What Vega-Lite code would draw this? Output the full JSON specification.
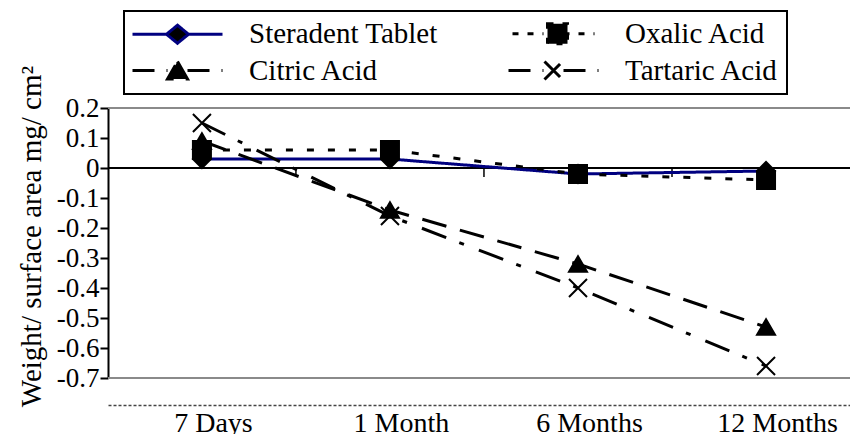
{
  "$schema": "https://vega.github.io/schema/vega-lite/v6.json",
  "width": 742,
  "height": 270,
  "autosize": {"type": "none"},
  "padding": {"left": 108, "top": 108, "right": 0, "bottom": 56},
  "background": "white",
  "config": {
    "view": {"stroke": null},
    "font": "Liberation Serif, Times New Roman, serif",
    "locale": {"number": {"decimal": ".", "thousands": ",", "grouping": [3], "currency": ["$", ""], "minus": "-"}},
    "axis": {"labelOverlap": false},
    "axisY": {"labelOverlap": false},
    "legend": {
      "orient": "none",
      "legendX": 16,
      "legendY": -97,
      "columns": 2,
      "gridAlign": "all",
      "columnPadding": 64,
      "rowPadding": 5,
      "padding": 8,
      "strokeColor": "black",
      "strokeWidth": 2,
      "labelFont": "Liberation Serif, Times New Roman, serif",
      "labelFontSize": 29,
      "labelColor": "black",
      "labelLimit": 400,
      "labelOffset": 57,
      "symbolOffset": 31,
      "symbolSize": 400,
      "symbolStrokeWidth": 3,
      "symbolFillColor": "black"
    }
  },
  "datasets": {
    "weight": [
      {"period": "7 Days", "months": 0.23, "series": "Steradent Tablet", "value": 0.03},
      {"period": "1 Month", "months": 1, "series": "Steradent Tablet", "value": 0.03},
      {"period": "6 Months", "months": 6, "series": "Steradent Tablet", "value": -0.02},
      {"period": "12 Months", "months": 12, "series": "Steradent Tablet", "value": -0.01},
      {"period": "7 Days", "months": 0.23, "series": "Oxalic Acid", "value": 0.06},
      {"period": "1 Month", "months": 1, "series": "Oxalic Acid", "value": 0.06},
      {"period": "6 Months", "months": 6, "series": "Oxalic Acid", "value": -0.02},
      {"period": "12 Months", "months": 12, "series": "Oxalic Acid", "value": -0.04},
      {"period": "7 Days", "months": 0.23, "series": "Citric Acid", "value": 0.09},
      {"period": "1 Month", "months": 1, "series": "Citric Acid", "value": -0.14},
      {"period": "6 Months", "months": 6, "series": "Citric Acid", "value": -0.32},
      {"period": "12 Months", "months": 12, "series": "Citric Acid", "value": -0.53},
      {"period": "7 Days", "months": 0.23, "series": "Tartaric Acid", "value": 0.15},
      {"period": "1 Month", "months": 1, "series": "Tartaric Acid", "value": -0.16},
      {"period": "6 Months", "months": 6, "series": "Tartaric Acid", "value": -0.40},
      {"period": "12 Months", "months": 12, "series": "Tartaric Acid", "value": -0.66}
    ]
  },
  "data": {"name": "weight"},
  "layer": [
    {
      "mark": {"type": "rule", "color": "#8a8a8a", "strokeWidth": 2},
      "encoding": {
        "y": {
          "datum": 0.2,
          "type": "quantitative",
          "scale": {"domain": [-0.7, 0.2], "nice": false, "zero": false},
          "axis": {
            "title": "Weight/ surface area mg/ cm²",
            "values": [0.2, 0.1, 0, -0.1, -0.2, -0.3, -0.4, -0.5, -0.6, -0.7],
            "tickCount": 10,
            "format": ".1~f",
            "labelFont": "Liberation Serif, Times New Roman, serif",
            "labelFontSize": 27,
            "labelColor": "black",
            "labelPadding": 1,
            "labelOverlap": false,
            "labelFlush": false,
            "domainColor": "black",
            "domainWidth": 2,
            "tickColor": "black",
            "tickWidth": 2,
            "tickSize": 8,
            "grid": false,
            "titleFont": "Liberation Serif, Times New Roman, serif",
            "titleFontSize": 29,
            "titleFontWeight": "normal",
            "titleColor": "black",
            "titleAngle": 270,
            "titleAlign": "center",
            "titleBaseline": "alphabetic",
            "titleX": -68,
            "titleY": 128
          }
        }
      }
    },
    {
      "mark": {"type": "rule", "color": "#8a8a8a", "strokeWidth": 2},
      "encoding": {"y": {"datum": -0.7, "type": "quantitative"}}
    },
    {
      "mark": {"type": "rule", "color": "black", "strokeWidth": 1.5},
      "encoding": {"y": {"datum": 0, "type": "quantitative"}}
    },
    {
      "transform": [{"filter": "datum.series == 'Steradent Tablet' && datum.period != '12 Months'"}],
      "mark": {"type": "rule", "color": "black", "strokeWidth": 1.5, "xOffset": 94},
      "encoding": {
        "x": {
          "field": "period",
          "type": "nominal",
          "sort": ["7 Days", "1 Month", "6 Months", "12 Months"],
          "scale": {"type": "point", "padding": 0.473, "align": 0.528},
          "axis": {
            "title": null,
            "orient": "bottom",
            "offset": 27,
            "domain": true,
            "domainColor": "#444444",
            "domainDash": [3, 2],
            "domainWidth": 1.5,
            "ticks": false,
            "tickSize": 0,
            "grid": false,
            "labelFont": "Liberation Serif, Times New Roman, serif",
            "labelFontSize": 28,
            "labelColor": "black",
            "labelBaseline": "alphabetic",
            "labelPadding": 26,
            "labelOffset": 11,
            "labelAngle": 0,
            "labelOverlap": false
          }
        },
        "y": {"datum": 0, "type": "quantitative"},
        "y2": {"datum": -0.03}
      }
    },
    {
      "mark": {"type": "line", "strokeWidth": 3},
      "encoding": {
        "x": {"field": "period", "type": "nominal", "sort": ["7 Days", "1 Month", "6 Months", "12 Months"]},
        "y": {"field": "value", "type": "quantitative"},
        "color": {
          "field": "series",
          "type": "nominal",
          "scale": {"domain": ["Steradent Tablet", "Oxalic Acid", "Citric Acid", "Tartaric Acid"], "range": ["#000080", "black", "black", "black"]},
          "legend": null
        },
        "strokeDash": {
          "field": "series",
          "type": "nominal",
          "scale": {"domain": ["Steradent Tablet", "Oxalic Acid", "Citric Acid", "Tartaric Acid"], "range": [[1, 0], [7, 14], [25, 14], [26, 14, 5, 16]]},
          "legend": null
        },
        "order": {"field": "months", "type": "quantitative"}
      }
    },
    {
      "mark": {"type": "point", "filled": true, "fill": "black", "stroke": "black", "strokeWidth": 2, "size": 324, "opacity": 1},
      "encoding": {
        "x": {"field": "period", "type": "nominal", "sort": ["7 Days", "1 Month", "6 Months", "12 Months"]},
        "y": {"field": "value", "type": "quantitative"},
        "shape": {
          "field": "series",
          "type": "nominal",
          "scale": {"domain": ["Steradent Tablet", "Oxalic Acid", "Citric Acid", "Tartaric Acid"], "range": ["diamond", "square", "triangle-up", "M-1,-1L1,1M-1,1L1,-1"]},
          "legend": null
        }
      }
    },
    {
      "transform": [{"filter": "false"}],
      "mark": {"type": "point", "filled": true, "fill": "black", "strokeWidth": 3, "size": 400, "opacity": 1},
      "encoding": {
        "shape": {
          "field": "series",
          "type": "nominal",
          "scale": {"domain": ["Steradent Tablet", "Citric Acid", "Oxalic Acid", "Tartaric Acid"], "range": [
            "M-4.5,0L-1.1,0M1.1,0L4.5,0M-1.1,0L0,-0.9L1.1,0L0,0.9Z",
            "M-4.5,0L-1,0M1,0L4.5,0M0,-0.9L1,0.85L-1,0.85Z",
            "M-4.1,0L-1,0M1,0L4.1,0M-0.6,-1L1.4,-1L1.4,1L-0.6,1Z",
            "M-4.5,0L-1,0M1,0L4.5,0M-0.9,-0.9L0.9,0.9M-0.9,0.9L0.9,-0.9"
          ]},
          "legend": {"title": null}
        },
        "stroke": {
          "field": "series",
          "type": "nominal",
          "scale": {"domain": ["Steradent Tablet", "Citric Acid", "Oxalic Acid", "Tartaric Acid"], "range": ["#000080", "black", "black", "black"]},
          "legend": {"title": null}
        },
        "strokeDash": {
          "field": "series",
          "type": "nominal",
          "scale": {"domain": ["Steradent Tablet", "Citric Acid", "Oxalic Acid", "Tartaric Acid"], "range": [[1, 0], [22, 12], [6, 9], [22, 12]]},
          "legend": {"title": null}
        }
      }
    }
  ],
  "resolve": {"scale": {"shape": "independent", "strokeDash": "independent", "color": "independent", "stroke": "independent"}}
}
